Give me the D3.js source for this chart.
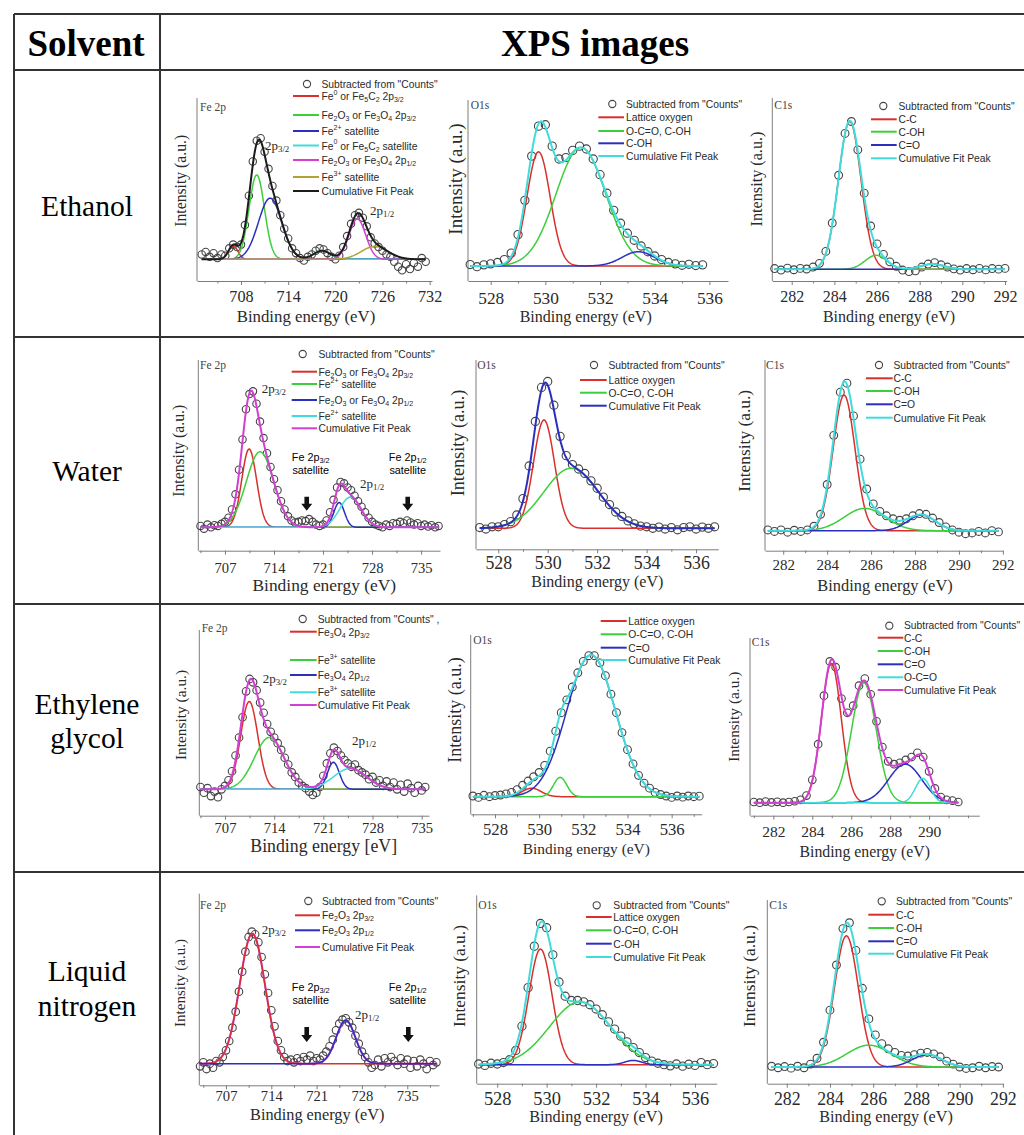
<!DOCTYPE html>
<html>
<head>
<meta charset="utf-8">
<script src="https://cdn.jsdelivr.net/npm/d3@7"></script>
<style>
  body { margin: 0; background: #fff; }
  svg { display: block; }
</style>
</head>
<body>
<svg id="chart" width="1024" height="1135"></svg>
<script>
// ---------- values ----------
const headers = ['Solvent', 'XPS images'];
const solvents = [['Ethanol'], ['Water'], ['Ethylene', 'glycol'], ['Liquid', 'nitrogen']];
const coreLevels = ['Fe 2p', 'O1s', 'C1s'];
const countsLabel = 'Subtracted from "Counts"';

// tick labels
const feTicksEthanol = [708, 714, 720, 726, 732];
const feTicks = [707, 714, 721, 728, 735];
const oTicks = [528, 530, 532, 534, 536];
const cTicks = [282, 284, 286, 288, 290, 292];
const cTicksGlycol = [282, 284, 286, 288, 290];

// fitted peaks: [centre eV, height (% of max), FWHM eV]
// measured points: grid = [first eV, step], counts in % of max

// Ethanol
const ethFeNames = ['Fe^{0} or Fe_{5}C_{2} 2p_{3/2}', 'Fe_{2}O_{3} or Fe_{3}O_{4} 2p_{3/2}', 'Fe^{2+} satellite',
  'Fe^{0} or Fe_{5}C_{2} satellite', 'Fe_{2}O_{3} or Fe_{3}O_{4} 2p_{1/2}', 'Fe^{3+} satellite', 'Cumulative Fit Peak'];
const ethFePeaks = [[707.0, 11, 1.4], [710.0, 69, 2.3], [711.7, 50, 3.5], [718.3, 7, 2.5], [722.8, 33, 2.5], [725.0, 10.5, 4.0]];
const ethFeGrid = [703, 0.5];
const ethFeCounts = [4, 6, 2, 5, 1, 4, 3, 9, 12, 10, 12, 28, 52, 80, 97, 99, 88, 74, 60, 48,
  36, 25, 17, 9, 5, 1, -1, 2, 4, 7, 9, 8, 5, 2, 0, 3, 10, 19, 29, 36,
  38, 34, 27, 18, 13, 10, 7, 4, 2, -2, -6, -9, -4, -8, -3, -6, 1, -2];

const ethONames = ['Lattice oxygen', 'O-C=O, C-OH', 'C-OH', 'Cumulative Fit Peak'];
const ethOPeaks = [[529.75, 80, 1.0], [531.3, 83, 2.15], [533.4, 10, 1.4]];
const ethOGrid = [527.25, 0.25];
const ethOCounts = [1, -0.5, 0.8, 1.5, 2.5, 4.5, 9, 22, 46, 77, 98, 99, 84, 75, 76, 81, 84, 82, 75, 64,
  51, 39, 30, 23, 18, 14, 10, 7, 4.5, 2.5, 1.5, 0.5, 1.2, 0.3, 0.8];

const ethCNames = ['C-C', 'C-OH', 'C=O', 'Cumulative Fit Peak'];
const ethCPeaks = [[284.72, 99, 1.25], [285.95, 9.4, 1.2], [288.6, 3.5, 1.3]];
const ethCGrid = [281.2, 0.3];
const ethCCounts = [0.5, -0.5, 0.8, -0.3, 0.6, 0.2, 1.5, 4, 12, 31, 63, 91, 99, 80, 51, 29, 17, 10, 5, 2,
  -0.5, -1.5, -1, 1.5, 3.5, 4.5, 3, 1.5, 0.3, -0.5, 0.5, -0.3, 0.6, -0.4, 0.5, 0.1, 0.6];

// Water
const watFeNames = ['Fe_{2}O_{3} or Fe_{3}O_{4} 2p_{3/2}', 'Fe^{2+} satellite', 'Fe_{2}O_{3} or Fe_{3}O_{4} 2p_{1/2}',
  'Fe^{2+} satellite', 'Cumulative Fit Peak'];
const watFePeaks = [[710.45, 57, 2.5], [712.0, 55, 4.6], [723.3, 18, 1.8], [724.9, 22, 3.6]];
const watFeGrid = [703.5, 0.5];
const watFeCounts = [1, -1, 2, 0, 1.5, 1, 2.5, 4, 7, 13, 24, 42, 64, 86, 97, 99, 90, 77, 65, 54,
  44, 35, 27, 19, 13, 8, 5, 3.5, 4, 5, 4.5, 6, 4, 2, 1, 2, 5, 11, 20, 29,
  33, 32, 29, 27, 23, 19, 15, 11, 7, 4, 2, 1, 0, 2, 1, 3, 2.5, 4, 3, 5,
  3.5, 2, 3, 1, 2, 0.5, 1.5, 0, 1];

const watONames = ['Lattice oxygen', 'O-C=O, C-OH', 'Cumulative Fit Peak'];
const watOPeaks = [[529.85, 73, 1.0], [530.95, 40.5, 2.6]];
const watOGrid = [527.25, 0.25];
const watOCounts = [0.5, -0.5, 1, 1, 2.5, 4.5, 9, 20, 42, 72, 95, 99, 83, 62, 49, 43, 40, 37, 32, 27,
  21, 16, 11, 8, 5, 3, 1.5, 1, 0, 0.8, -0.5, 0.5, -1, 0.5, 1, -0.5, 0.8, 0, 1];

const watCNames = ['C-C', 'C-OH', 'C=O', 'Cumulative Fit Peak'];
const watCPeaks = [[284.77, 91, 1.17], [285.71, 15, 2.2], [288.3, 10.5, 1.5]];
const watCGrid = [281.3, 0.3];
const watCCounts = [0.5, -0.5, 0.5, -1, 0.3, -0.5, 0.5, 3, 11, 31, 64, 93, 99, 77, 48, 28, 18, 13, 10, 8,
  7, 8, 10, 11.5, 11, 8.5, 5.5, 2.5, 0.5, -1, -2, -1.5, -0.5, -1.5, 0, -0.8];

// Ethylene glycol
const egFeNames = ['Fe_{3}O_{4} 2p_{3/2}', 'Fe^{3+} satellite', 'Fe_{3}O_{4} 2p_{1/2}', 'Fe^{3+} satellite', 'Cumulative Fit Peak'];
const egFePeaks = [[710.45, 78, 2.9], [713.3, 46, 5.0], [722.43, 24, 2.0], [724.8, 18.5, 5.5]];
const egFeGrid = [703.5, 0.5];
const egFeCounts = [2, -3, 1, -6, -2, -7, 0, 3, 8, 16, 30, 46, 64, 87, 98, 95, 88, 77, 68, 58,
  51, 46, 41, 35, 28, 22, 15, 11, 6, 3, 1, -2, -5, -3, 2, 12, 23, 32, 37, 34,
  30, 26, 23, 20, 22, 17, 15, 13, 9, 11, 6, 8, 3, 7, 2, 6, 0, 4, -2, 5,
  1, -3, 3, -1, 2];

const egONames = ['Lattice oxygen', 'O-C=O, C-OH', 'C=O', 'Cumulative Fit Peak'];
const egOPeaks = [[529.66, 6, 1.0], [530.95, 13.6, 0.7], [532.35, 99.5, 2.6]];
const egOGrid = [527.0, 0.25];
const egOCounts = [0.5, -0.5, 1, 0, 0.8, 1.2, 2, 3, 5, 8, 11, 14, 17, 22, 32, 46, 59, 68, 77, 87,
  95, 99, 99, 94, 85, 72, 59, 45, 33, 23, 15, 9.5, 6, 3, 1.5, 0.5, -0.5, 0.5, -0.3, 0.5, 0, 0.4];

const egCNames = ['C-C', 'C-OH', 'C=O', 'O-C=O', 'Cumulative Fit Peak'];
const egCPeaks = [[284.98, 97.6, 1.2], [286.65, 84, 1.5], [288.77, 27, 2.0], [289.68, 17, 0.9]];
const egCGrid = [281.0, 0.3];
const egCCounts = [0.5, 0, 0.8, 0.2, 0.6, 0, 0.5, 1, 2, 5, 16, 41, 75, 99, 95, 73, 63, 68, 82, 87,
  76, 57, 39, 29, 27, 28, 30, 32, 35, 32, 22, 10, 4, 2, 1.5, 0.5];

// Liquid nitrogen
const lnFeNames = ['Fe_{2}O_{3} 2p_{3/2}', 'Fe_{2}O_{3} 2p_{1/2}', 'Cumulative Fit Peak'];
const lnFePeaks = [[711.07, 97.5, 4.6], [725.5, 32.5, 3.5]];
const lnFeGrid = [703, 0.5];
const lnFeCounts = [-2, 1, -4, 0, -3, 2, 1, 5, 10, 17, 27, 39, 54, 69, 84, 95, 99, 97, 91, 80,
  67, 53, 40, 28, 17, 10, 5, 2, 3, 1, 4, 2, 5, 3, 6, 2, 4, 3, 6, 9,
  13, 18, 25, 30, 33, 34, 31, 27, 21, 15, 9, 5, 1, -3, -1, 3, -2, 4, 1, 5,
  2, -1, 4, 0, 3, -3, 2, -2, 3, 0, -4, 2, -1, 1];

const lnONames = ['Lattice oxygen', 'O-C=O, C-OH', 'C-OH', 'Cumulative Fit Peak'];
const lnOPeaks = [[529.75, 81, 1.1], [531.35, 44, 2.9], [533.5, 3, 0.8]];
const lnOGrid = [527.25, 0.25];
const lnOCounts = [0.5, -0.5, 1, 0.5, 1.5, 3.5, 10, 27, 54, 83, 99, 96, 77, 58, 48, 45, 45, 44, 42, 39,
  35, 30, 25, 20, 16, 12, 8.5, 5, 2.5, 1, 0, -0.8, 0.5, -1, 0.3, -0.5, 1.5, 0, 0.8];

const lnCNames = ['C-C', 'C-OH', 'C=O', 'Cumulative Fit Peak'];
const lnCPeaks = [[284.76, 90, 1.3], [285.8, 15, 2.4], [288.5, 8.5, 1.6]];
const lnCGrid = [281.3, 0.3];
const lnCCounts = [0.5, -0.5, 0.3, -0.8, 0.5, -0.5, 2, 6, 17, 39, 70, 95, 99, 80, 54, 33, 22, 16, 12.5, 10,
  8, 7.5, 8.5, 9.5, 10, 9, 7, 4, 2, 0, -1, -0.5, 0.5, -0.5, 0.3, 0];

// ---------- styling ----------
const SERIF = '"Liberation Serif", "Times New Roman", serif';
const SANS = '"Liberation Sans", Arial, sans-serif';
const AXIS = '#7d7d7d';
const DOT = '#444';
const palette = {
  red: '#d8302c', green: '#3ccf3c', blue: '#2b2fbf', cyan: '#40dcdc',
  magenta: '#d23fd2', olive: '#b3a233', black: '#1c1c1c'
};

// layout of the 12 panels (page pixels)
const panels = [
  { tag: 0, names: ethFeNames, peaks: ethFePeaks, grid: ethFeGrid, counts: ethFeCounts, ticks: feTicksEthanol,
    frame: [197, 98, 432, 281], base: 259.3, peak: 137, xDomain: [702.4, 732.3], r: 3.7,
    tickY: 296.7, tickFs: 16.2, title: [306, 316, 16.8], yTitle: [180.3, 180.8, 15.7], tagPos: [200, 106.7],
    colors: ['red', 'green', 'blue', 'cyan', 'magenta', 'olive'], fit: 'black',
    legend: { sym: 307, line: [293, 319], text: 321.5, rows: [84, 96, 115, 131, 145.5, 160, 177, 191] },
    peakLabels: [['2p_{3/2}', 265, 145], ['2p_{1/2}', 370, 210]] },
  { tag: 1, names: ethONames, peaks: ethOPeaks, grid: ethOGrid, counts: ethOCounts, ticks: oTicks,
    frame: [468, 100, 728, 281], base: 266, peak: 123.3, xDomain: [527.17, 536.68], r: 4.1,
    tickY: 298.3, tickFs: 17.3, title: [585.7, 316.7, 16], yTitle: [455, 179, 19], tagPos: [470.7, 105],
    colors: ['red', 'green', 'blue'], fit: 'cyan',
    legend: { sym: 612.3, line: [598.3, 624], text: 626, rows: [104, 117.3, 131, 143.3, 156] } },
  { tag: 2, names: ethCNames, peaks: ethCPeaks, grid: ethCGrid, counts: ethCCounts, ticks: cTicks,
    frame: [772.3, 98, 1006.7, 281], base: 269.3, peak: 120, xDomain: [281.09, 292.08], r: 3.9,
    tickY: 296.7, tickFs: 16, title: [889, 316.7, 16], yTitle: [756.7, 179, 16.2], tagPos: [774.3, 105],
    colors: ['red', 'green', 'blue'], fit: 'cyan',
    legend: { sym: 883.3, line: [871, 896.7], text: 898.5, rows: [106, 119.3, 131.7, 145, 158.3] } },

  { tag: 0, names: watFeNames, peaks: watFePeaks, grid: watFeGrid, counts: watFeCounts, ticks: feTicks,
    frame: [198.3, 360, 440, 550.7], base: 527.3, peak: 390, xDomain: [703.19, 737.7], r: 3.7,
    tickY: 568.3, tickFs: 14.6, title: [324.3, 585, 17.4], yTitle: [178.3, 450.8, 15.7], tagPos: [200, 365],
    colors: ['red', 'green', 'blue', 'cyan'], fit: 'magenta',
    legend: { sym: 302.7, line: [291.7, 317], text: 318.5, rows: [354, 371.7, 384, 400, 416, 428.3] },
    peakLabels: [['2p_{3/2}', 261.7, 388.3], ['2p_{1/2}', 360, 483.3]],
    notes: [[718.67, 310.7, 'Fe 2p_{3/2}'], [733.09, 407.7, 'Fe 2p_{1/2}']], noteY: [457, 469.5], arrowV: [22.3, 12.1] },
  { tag: 1, names: watONames, peaks: watOPeaks, grid: watOGrid, counts: watOCounts, ticks: oTicks,
    frame: [476, 360, 718.3, 549.3], base: 528.3, peak: 380, xDomain: [527.1, 536.9], r: 4.1,
    tickY: 563.3, tickFs: 17.8, title: [597.3, 581.7, 16], yTitle: [457.5, 443, 18.2], tagPos: [477.3, 365],
    colors: ['red', 'green'], fit: 'blue',
    legend: { sym: 594, line: [580, 606.7], text: 608.5, rows: [365, 380, 392.7, 405.7] } },
  { tag: 2, names: watCNames, peaks: watCPeaks, grid: watCGrid, counts: watCCounts, ticks: cTicks,
    frame: [765, 360, 1003.3, 550.7], base: 530.7, peak: 381.7, xDomain: [281.17, 292.02], r: 3.9,
    tickY: 565, tickFs: 15, title: [885, 585, 16.4], yTitle: [744, 440.8, 17.4], tagPos: [766, 365],
    colors: ['red', 'green', 'blue'], fit: 'cyan',
    legend: { sym: 879, line: [866, 892.7], text: 893.5, rows: [365, 378.3, 391, 404.3, 417.7] } },

  { tag: 0, names: egFeNames, peaks: egFePeaks, grid: egFeGrid, counts: egFeCounts, ticks: feTicks,
    frame: [199.3, 630, 429, 815.7], base: 789.3, peak: 676.7, xDomain: [703.34, 736.04], r: 3.8,
    tickY: 827.7, tickFs: 14.6, title: [323.7, 845.7, 17.8], yTitle: [180.3, 715, 15.4], tagPos: [201.7, 628.3],
    xTitle: 'Binding energy [eV]', countsText: countsLabel + ' ,',
    colors: ['red', 'green', 'blue', 'cyan'], fit: 'magenta',
    legend: { sym: 302.7, line: [290, 316.7], text: 317.7, rows: [619, 631.7, 660, 675, 692.3, 705] },
    peakLabels: [['2p_{3/2}', 262.7, 678.3], ['2p_{1/2}', 352, 740]] },
  { tag: 1, names: egONames, peaks: egOPeaks, grid: egOGrid, counts: egOCounts, ticks: oTicks,
    frame: [470.7, 635, 701.7, 814.3], base: 796.7, peak: 654.3, xDomain: [526.9, 537.36], r: 3.9,
    tickY: 829, tickFs: 16.7, title: [586.3, 848.3, 15.4], yTitle: [455, 710, 18], tagPos: [473.3, 640],
    colors: ['red', 'green', 'blue'], fit: 'cyan', noCounts: true,
    legend: { sym: null, line: [600.7, 626.7], text: 628.3, rows: [621, 634.3, 647.7, 660] } },
  { tag: 2, names: egCNames, peaks: egCPeaks, grid: egCGrid, counts: egCCounts, ticks: cTicksGlycol,
    frame: [750, 638, 979.3, 815.7], base: 802.7, peak: 660, xDomain: [280.8, 292.58], r: 3.8,
    tickY: 831.7, tickFs: 15.5, title: [864.7, 851.7, 15.8], yTitle: [733, 716.7, 15.4], tagPos: [751.7, 641.7],
    colors: ['red', 'green', 'blue', 'cyan'], fit: 'magenta',
    legend: { sym: 889.3, line: [877.7, 903.3], text: 904, rows: [625.7, 637.7, 651, 664.3, 677.3, 690] } },

  { tag: 0, names: lnFeNames, peaks: lnFePeaks, grid: lnFeGrid, counts: lnFeCounts, ticks: feTicks,
    frame: [199.3, 893.7, 439, 1085.3], base: 1063.7, peak: 930.3, xDomain: [702.88, 739.9], r: 3.8,
    tickY: 1096, tickFs: 14.6, title: [317.3, 1114.7, 16.3], yTitle: [180.3, 983, 15], tagPos: [200, 905.3],
    colors: ['red', 'blue'], fit: 'magenta', fitUnder: true,
    legend: { sym: 308.3, line: [295, 320], text: 322, rows: [901, 915.3, 930.3, 947] },
    peakLabels: [['2p_{3/2}', 261.7, 929.3], ['2p_{1/2}', 355, 1013.7]],
    notes: [[719.47, 310.7, 'Fe 2p_{3/2}'], [735.16, 407.7, 'Fe 2p_{1/2}']], noteY: [987, 999.7], arrowV: [27.5, 16.3] },
  { tag: 1, names: lnONames, peaks: lnOPeaks, grid: lnOGrid, counts: lnOCounts, ticks: oTicks,
    frame: [476.7, 895.3, 716.7, 1083.7], base: 1064.7, peak: 922, xDomain: [527.17, 536.88], r: 4.1,
    tickY: 1098.7, tickFs: 18.4, title: [596, 1117, 16.2], yTitle: [458.7, 976, 17.4], tagPos: [478.3, 904.7],
    colors: ['red', 'green', 'blue'], fit: 'cyan',
    legend: { sym: 596.7, line: [586, 611.7], text: 613.3, rows: [905.3, 917, 930.3, 943.7, 957] } },
  { tag: 2, names: lnCNames, peaks: lnCPeaks, grid: lnCGrid, counts: lnCCounts, ticks: cTicks,
    frame: [767.3, 900, 1003.3, 1083.7], base: 1067, peak: 921.3, xDomain: [281.1, 292.02], r: 3.9,
    tickY: 1098.7, tickFs: 17.8, title: [886, 1117, 16.2], yTitle: [749, 976, 17.4], tagPos: [769.3, 904.7],
    colors: ['red', 'green', 'blue'], fit: 'cyan',
    legend: { sym: 881.7, line: [868.3, 894], text: 896, rows: [901.3, 914.7, 928, 941.3, 953.7] } }
];

const svg = d3.select('#chart');

// text with _{sub} and ^{sup} pieces
function rich(text, str, fs) {
  const re = /([_^])\{([^}]*)\}/g;
  let last = 0, shift = 0, m;
  const push = (s, dy, small) => {
    const t = text.append('tspan').text(s).attr('dy', (dy - shift) * fs);
    if (small) t.attr('font-size', fs * 0.68);
    shift = dy;
  };
  while ((m = re.exec(str))) {
    if (m.index > last) push(str.slice(last, m.index), 0, false);
    push(m[2], m[1] === '_' ? 0.3 : -0.4, true);
    last = re.lastIndex;
  }
  if (last < str.length) push(str.slice(last), 0, false);
}

const gauss = (e, [c, h, w]) => h * Math.exp(-4 * Math.LN2 * ((e - c) / w) ** 2);

// ---------- table ----------
const grid = svg.append('g').attr('stroke', '#333').attr('stroke-width', 2);
[14, 70, 337, 604, 872].forEach(yy => grid.append('line').attr('x1', 14).attr('x2', 1024).attr('y1', yy).attr('y2', yy));
[14, 160].forEach(xx => grid.append('line').attr('x1', xx).attr('x2', xx).attr('y1', 14).attr('y2', 1135));

svg.append('text').attr('x', 86).attr('y', 43).text(headers[0]);
svg.append('text').attr('x', 595).attr('y', 43).text(headers[1]);
svg.selectAll('text').attr('font-family', SERIF).attr('font-weight', 'bold').attr('font-size', 37)
  .attr('text-anchor', 'middle').attr('dominant-baseline', 'central');

const rowLabelY = [[206], [471], [704, 738], [971, 1006]];
solvents.forEach((lines, i) => {
  lines.forEach((s, j) => {
    svg.append('text').attr('x', 87).attr('y', rowLabelY[i][j]).text(s)
      .attr('font-family', SERIF).attr('font-size', 29.5).attr('text-anchor', 'middle')
      .attr('dominant-baseline', 'central');
  });
});

// ---------- panels ----------
panels.forEach(p => {
  const [L, T, R, B] = p.frame;
  const x = d3.scaleLinear().domain(p.xDomain).range([L, R]);
  const y = d3.scaleLinear().domain([0, 100]).range([p.base, p.peak]);
  const g = svg.append('g');

  // y axis (no ticks)
  g.append('line').attr('x1', L).attr('x2', L).attr('y1', T).attr('y2', B)
    .attr('stroke', AXIS).attr('stroke-width', 1);

  // x axis, major and minor ticks
  const pad = p.tickY - B - 4 - 0.38 * p.tickFs;
  const xa = g.append('g').attr('transform', `translate(0,${B})`)
    .call(d3.axisBottom(x).tickValues(p.ticks).tickSizeInner(4).tickSizeOuter(0)
      .tickPadding(pad).tickFormat(d3.format('d')))
    .attr('font-family', SERIF).attr('font-size', p.tickFs);
  xa.select('.domain').attr('stroke', AXIS);
  xa.selectAll('.tick line').attr('stroke', AXIS);
  xa.selectAll('.tick text').attr('fill', '#2a2a2a');

  const half = (p.ticks[1] - p.ticks[0]) / 2;
  const minor = [];
  for (let v = p.ticks[0] - half * Math.floor((p.ticks[0] - p.xDomain[0]) / half); v <= p.xDomain[1]; v += half) {
    if (!p.ticks.includes(v)) minor.push(v);
  }
  g.append('g').attr('transform', `translate(0,${B})`)
    .call(d3.axisBottom(x).tickValues(minor).tickSize(2.5).tickFormat(''))
    .call(a => a.select('.domain').remove())
    .selectAll('line').attr('stroke', AXIS);

  // axis titles and tag
  g.append('text').attr('x', p.title[0]).attr('y', p.title[1])
    .attr('font-family', SERIF).attr('font-size', p.title[2]).attr('fill', '#2a2a2a')
    .attr('text-anchor', 'middle').attr('dominant-baseline', 'central')
    .text(p.xTitle || 'Binding energy (eV)');
  g.append('text').attr('transform', `translate(${p.yTitle[0]},${p.yTitle[1]}) rotate(-90)`)
    .attr('font-family', SERIF).attr('font-size', p.yTitle[2]).attr('fill', '#2a2a2a')
    .attr('text-anchor', 'middle').attr('dominant-baseline', 'central')
    .text('Intensity (a.u.)');
  g.append('text').attr('x', p.tagPos[0]).attr('y', p.tagPos[1])
    .attr('font-family', SERIF).attr('font-size', 11.5).attr('fill', '#444')
    .attr('dominant-baseline', 'central').text(coreLevels[p.tag]);

  // measured points
  const pts = p.counts.map((v, i) => ({ e: p.grid[0] + i * p.grid[1], v }));
  g.append('g').selectAll('circle').data(pts).join('circle')
    .attr('cx', d => x(d.e)).attr('cy', d => y(d.v)).attr('r', p.r)
    .attr('fill', 'none').attr('stroke', DOT).attr('stroke-width', 1.1);

  // fitted components and their sum
  const e0 = pts[0].e, e1 = pts[pts.length - 1].e;
  const fine = d3.range(401).map(i => e0 + (e1 - e0) * i / 400);
  const line = d3.line().x(d => x(d[0])).y(d => y(d[1]));
  const drawFit = () => g.append('path')
    .attr('d', line(fine.map(e => [e, d3.sum(p.peaks, pk => gauss(e, pk))])))
    .attr('fill', 'none').attr('stroke', palette[p.fit]).attr('stroke-width', 2);
  if (p.fitUnder) drawFit();
  p.peaks.forEach((pk, i) => {
    g.append('path').attr('d', line(fine.map(e => [e, gauss(e, pk)])))
      .attr('fill', 'none').attr('stroke', palette[p.colors[i]]).attr('stroke-width', 1.5);
  });
  if (!p.fitUnder) drawFit();

  // legend
  const lg = g.append('g').attr('font-family', SANS).attr('font-size', 10.3).attr('fill', '#2a2a2a');
  let rows = p.legend.rows;
  if (!p.noCounts) {
    lg.append('circle').attr('cx', p.legend.sym).attr('cy', rows[0]).attr('r', 3.6)
      .attr('fill', 'none').attr('stroke', DOT).attr('stroke-width', 1.1);
    lg.append('text').attr('x', p.legend.text).attr('y', rows[0]).attr('dominant-baseline', 'central')
      .text(p.countsText || countsLabel);
    rows = rows.slice(1);
  }
  const colors = p.colors.concat([p.fit]);
  p.names.forEach((name, i) => {
    lg.append('line').attr('x1', p.legend.line[0]).attr('x2', p.legend.line[1])
      .attr('y1', rows[i]).attr('y2', rows[i])
      .attr('stroke', palette[colors[i]]).attr('stroke-width', 2);
    const t = lg.append('text').attr('x', p.legend.text).attr('y', rows[i]).attr('dominant-baseline', 'central');
    rich(t, name, 10.3);
  });

  // peak labels
  (p.peakLabels || []).forEach(([s, px, py]) => {
    const t = g.append('text').attr('x', px).attr('y', py).attr('font-family', SERIF)
      .attr('font-size', 13).attr('fill', '#2a2a2a').attr('dominant-baseline', 'central');
    rich(t, s, 13);
  });

  // satellite notes with arrows
  (p.notes || []).forEach(([ev, tx, s]) => {
    const t1 = g.append('text').attr('x', tx).attr('y', p.noteY[0]).attr('font-family', SANS)
      .attr('font-size', 10.8).attr('text-anchor', 'middle').attr('dominant-baseline', 'central');
    rich(t1, s, 10.8);
    g.append('text').attr('x', tx).attr('y', p.noteY[1]).attr('font-family', SANS)
      .attr('font-size', 10.8).attr('text-anchor', 'middle').attr('dominant-baseline', 'central')
      .text('satellite');
    const cx = x(ev), top = y(p.arrowV[0]), tip = y(p.arrowV[1]);
    g.append('path').attr('fill', '#111')
      .attr('d', `M${cx - 2.3},${top}L${cx + 2.3},${top}L${cx + 2.3},${tip - 7}L${cx + 5.5},${tip - 7}` +
        `L${cx},${tip}L${cx - 5.5},${tip - 7}L${cx - 2.3},${tip - 7}Z`);
  });
});
</script>
</body>
</html>
